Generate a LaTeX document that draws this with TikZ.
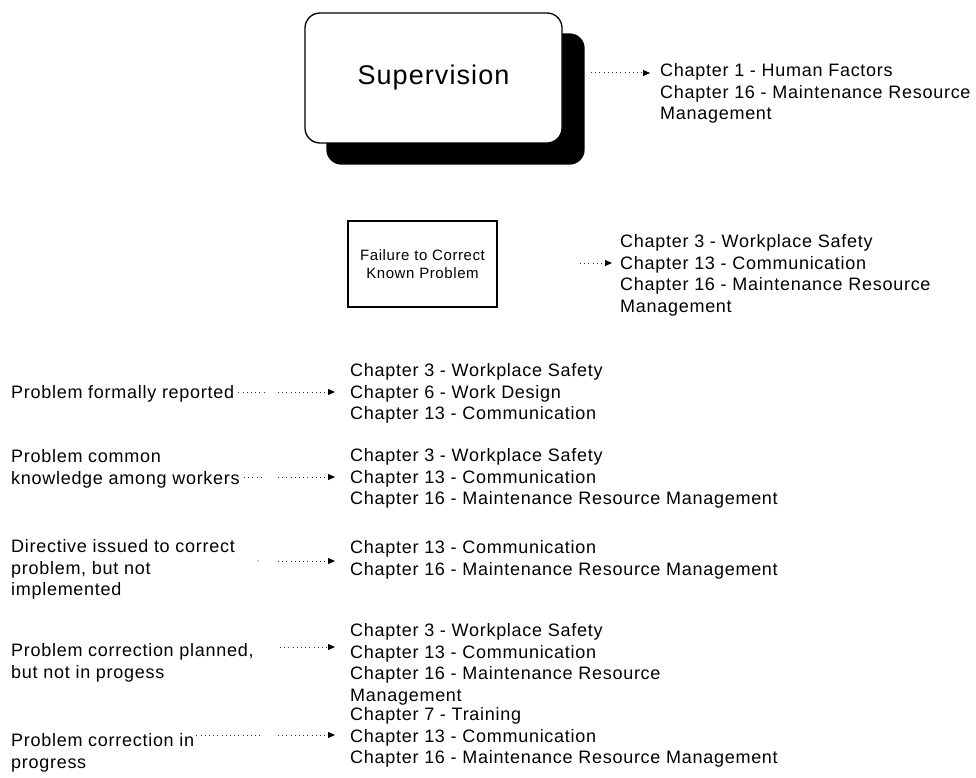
\documentclass[tikz,border=0pt]{standalone}
\usepackage{fontspec}
\setmainfont{Liberation Sans}[LetterSpace=4.0]
\usetikzlibrary{arrows.meta,calc,backgrounds}
\begin{document}
\begin{tikzpicture}[x=1pt,y=-1pt,
  chap/.style={anchor=north west, inner sep=0pt, align=left,
    font=\fontsize{18}{21.5}\selectfont},
  lbl/.style={chap},
  ptr/.style={line width=1pt, black!80, dash pattern=on 1pt off 3.2pt,
    -{Triangle[length=7pt,width=6pt,black]}},
  stub/.style={line width=1pt, black!80, dash pattern=on 1pt off 3.2pt},
  supbox/.style={draw, line width=1.3pt, rounded corners=15pt, fill=white,
    minimum width=257pt, minimum height=130pt,
    font=\fontsize{27}{30}\selectfont},
  probbox/.style={draw, line width=1.3pt, minimum width=149pt,
    minimum height=86pt, align=center,
    font=\fontsize{15}{18.5}\selectfont}
]
\useasboundingbox (0,0) rectangle (976,778);

% --- Supervision ---
\node[supbox] (sup) at (433.5,78) {Supervision};
\begin{scope}[on background layer]
  \fill[rounded corners=15pt] ($(sup.north west)+(22,21)$) rectangle ($(sup.south east)+(22,21)$);
\end{scope}
\node[chap] (sch) at (660,63.5) {Chapter 1 - Human Factors\\Chapter 16 - Maintenance Resource\\Management};
\coordinate (a0s) at (591,73);
\draw[ptr] (a0s) -- ($(sch.west |- a0s)+(-10,0)$);

% --- Failure to correct known problem ---
\node[probbox] (fail) at (422.5,264) {Failure to Correct\\Known Problem};
\node[chap] (fch) at (620,234.5) {Chapter 3 - Workplace Safety\\Chapter 13 - Communication\\Chapter 16 - Maintenance Resource\\Management};
\coordinate (a1s) at (580,263);
\draw[ptr] (a1s) -- ($(fch.west |- a1s)+(-8,0)$);

% --- Contributing conditions ---
\node[lbl] (l1) at (11,385.5) {Problem formally reported};
\node[lbl] (l2) at (11,449.5) {Problem common\\knowledge among workers};
\node[lbl] (l3) at (11,539.5) {Directive issued to correct\\problem, but not\\implemented};
\node[lbl] (l4) at (11,643.5) {Problem correction planned,\\but not in progess};
\node[lbl] (l5) at (11,733.5) {Problem correction in\\progress};

\node[chap] (r1) at (350,363.5) {Chapter 3 - Workplace Safety\\Chapter 6 - Work Design\\Chapter 13 - Communication};
\node[chap] (r2) at (350,448.5) {Chapter 3 - Workplace Safety\\Chapter 13 - Communication\\Chapter 16 - Maintenance Resource Management};
\node[chap] (r3) at (350,540.5) {Chapter 13 - Communication\\Chapter 16 - Maintenance Resource Management};
\node[chap] (r4) at (350,623.5) {Chapter 3 - Workplace Safety\\Chapter 13 - Communication\\Chapter 16 - Maintenance Resource\\Management};
\node[chap] (r5) at (350,707.5) {Chapter 7 - Training\\Chapter 13 - Communication\\Chapter 16 - Maintenance Resource Management};

% arrow starts
\coordinate (p1) at (278,392);
\coordinate (p2) at (278,477);
\coordinate (p3) at (278,561);
\coordinate (p4) at (280,647);
\coordinate (p5) at (278,735);

\draw[ptr] (p1) -- ($(r1.west |- p1)+(-15,0)$);
\draw[ptr] (p2) -- ($(r2.west |- p2)+(-15,0)$);
\draw[ptr] (p3) -- ($(r3.west |- p3)+(-15,0)$);
\draw[ptr] (p4) -- ($(r4.west |- p4)+(-15,0)$);
\draw[ptr] (p5) -- ($(r5.west |- p5)+(-15,0)$);

% dotted leaders trailing the labels
\coordinate (q1) at (264,392);
\coordinate (q2) at (263,477);
\coordinate (q3) at (258,561);
\coordinate (q5) at (263,735);
\draw[stub] ($(l1.east |- q1)+(4,0)$) -- (q1);
\draw[stub] ($(l2.east |- q2)+(4,0)$) -- (q2);
\fill[black!80] (q3) circle (0.6pt);
\draw[stub] ($(l5.east |- q5)+(2,0)$) -- (q5);
\end{tikzpicture}
\end{document}
